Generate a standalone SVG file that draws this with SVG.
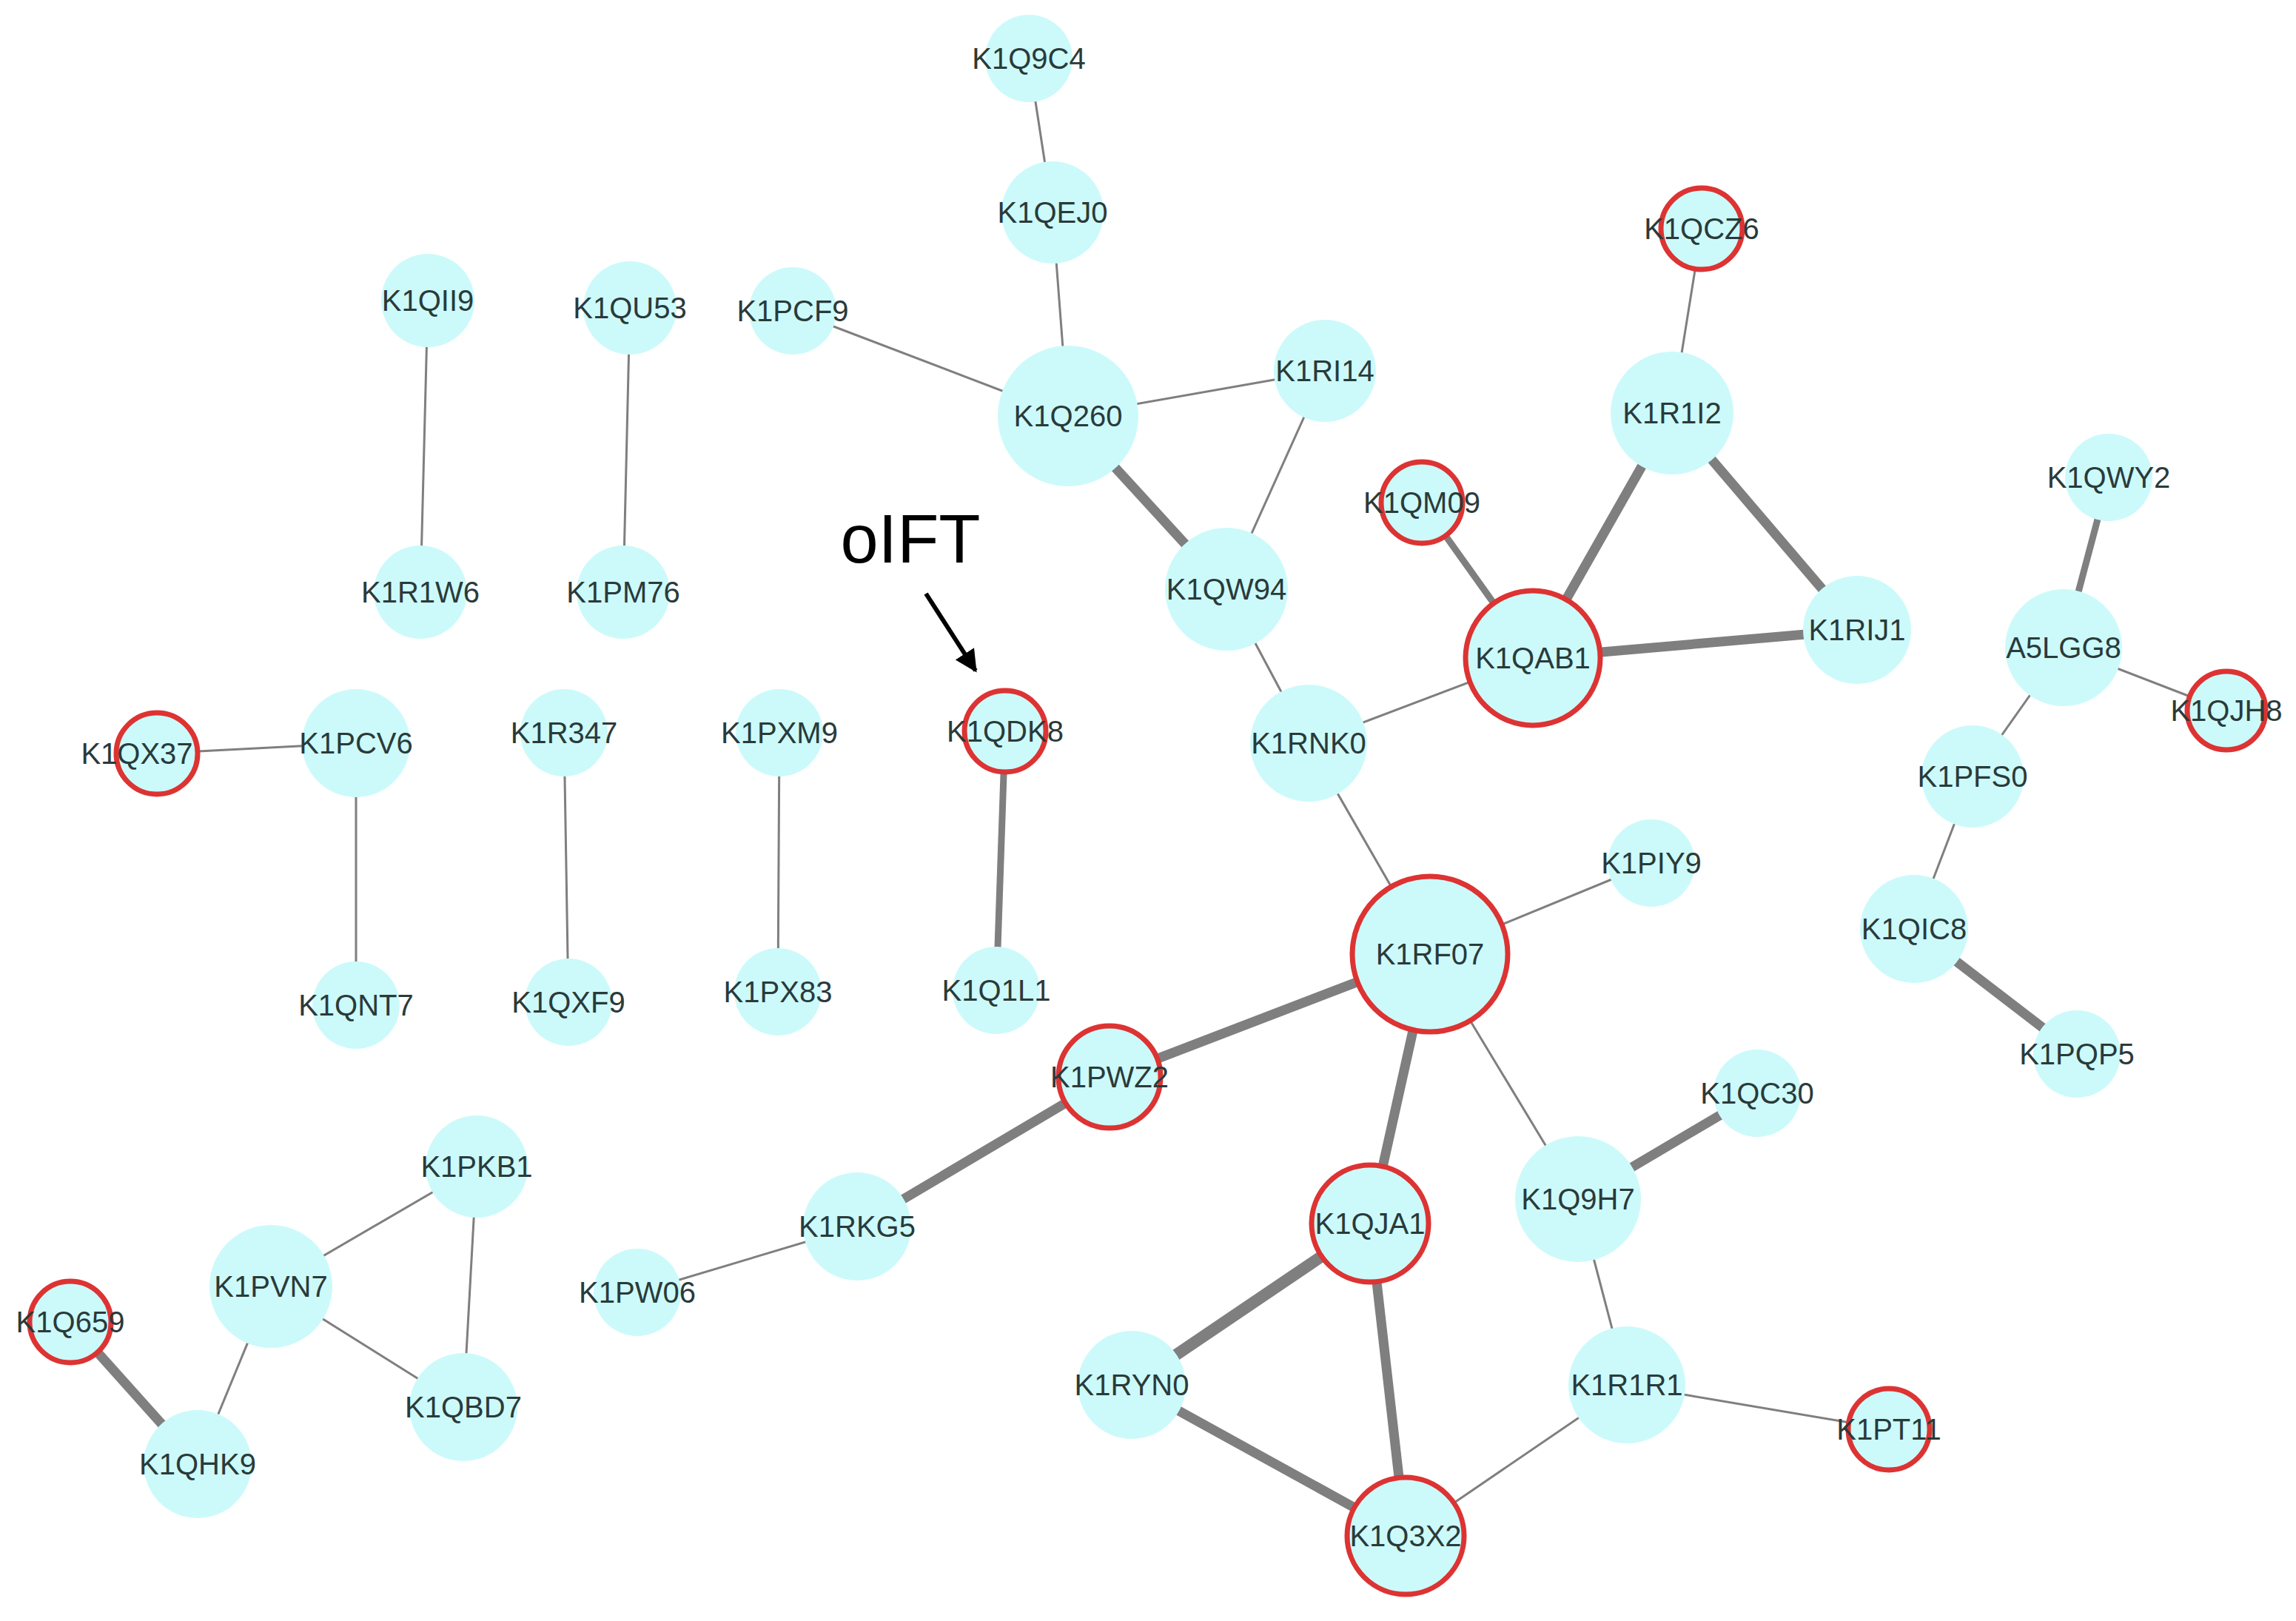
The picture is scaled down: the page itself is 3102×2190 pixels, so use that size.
<svg xmlns="http://www.w3.org/2000/svg" width="3102" height="2190" viewBox="0 0 3102 2190">
<style>
.n{fill:#ccfafa}
.r{fill:#ccfafa;stroke:#dd3333;stroke-width:7}
.t{font-family:"Liberation Sans",Arial,sans-serif;font-size:40px;fill:#2a3a3a;text-anchor:middle;dominant-baseline:central}
.e{stroke:#7f7f7f;stroke-width:3;fill:none}
.k{stroke:#7f7f7f;stroke-width:13;fill:none}
.m{stroke:#7f7f7f;stroke-width:9;fill:none}
</style>
<defs><marker id="ah" viewBox="0 0 10 10" refX="9" refY="5" markerWidth="5" markerHeight="5" orient="auto"><path d="M0,0L10,5L0,10z" fill="#000"/></marker></defs>
<rect width="3102" height="2190" fill="#fff"/>
<g id="connectors">
<line class="e" x1="1390" y1="79" x2="1422" y2="287"/>
<line class="e" x1="1422" y1="287" x2="1443" y2="562"/>
<line class="e" x1="1071" y1="420" x2="1443" y2="562"/>
<line class="e" x1="1443" y1="562" x2="1790" y2="501"/>
<line class="k" x1="1443" y1="562" x2="1657" y2="796"/>
<line class="e" x1="1790" y1="501" x2="1657" y2="796"/>
<line class="e" x1="1657" y1="796" x2="1768" y2="1004"/>
<line class="e" x1="1768" y1="1004" x2="2071" y2="889"/>
<line class="e" x1="1768" y1="1004" x2="1932" y2="1289"/>
<line class="e" x1="2299" y1="309" x2="2259" y2="558"/>
<line class="k" x1="2259" y1="558" x2="2071" y2="889"/>
<line class="k" x1="2259" y1="558" x2="2509" y2="851"/>
<line class="k" x1="2071" y1="889" x2="2509" y2="851"/>
<line class="m" x1="1921" y1="679" x2="2071" y2="889"/>
<line class="m" x1="2849" y1="645" x2="2788" y2="875"/>
<line class="e" x1="2788" y1="875" x2="3008" y2="960"/>
<line class="e" x1="2788" y1="875" x2="2665" y2="1049"/>
<line class="e" x1="2665" y1="1049" x2="2586" y2="1255"/>
<line class="k" x1="2586" y1="1255" x2="2806" y2="1424"/>
<line class="e" x1="578" y1="406" x2="568" y2="800"/>
<line class="e" x1="851" y1="416" x2="842" y2="800"/>
<line class="e" x1="212" y1="1018" x2="481" y2="1004"/>
<line class="e" x1="481" y1="1004" x2="481" y2="1358"/>
<line class="e" x1="762" y1="990" x2="768" y2="1354"/>
<line class="e" x1="1053" y1="990" x2="1051" y2="1340"/>
<line class="m" x1="1358" y1="988" x2="1346" y2="1338"/>
<line class="e" x1="1932" y1="1289" x2="2231" y2="1166"/>
<line class="k" x1="1932" y1="1289" x2="1499" y2="1455"/>
<line class="k" x1="1932" y1="1289" x2="1851" y2="1653"/>
<line class="e" x1="1932" y1="1289" x2="2132" y2="1620"/>
<line class="k" x1="1499" y1="1455" x2="1158" y2="1657"/>
<line class="e" x1="1158" y1="1657" x2="861" y2="1746"/>
<line class="k" x1="2132" y1="1620" x2="2374" y2="1477"/>
<line class="e" x1="2132" y1="1620" x2="2198" y2="1871"/>
<line class="e" x1="2198" y1="1871" x2="2552" y2="1931"/>
<line class="e" x1="2198" y1="1871" x2="1899" y2="2075"/>
<line class="k" x1="1851" y1="1653" x2="1529" y2="1871" style="stroke-width:16"/>
<line class="k" x1="1851" y1="1653" x2="1899" y2="2075"/>
<line class="k" x1="1529" y1="1871" x2="1899" y2="2075"/>
<line class="e" x1="644" y1="1576" x2="366" y2="1738"/>
<line class="e" x1="644" y1="1576" x2="626" y2="1901"/>
<line class="e" x1="366" y1="1738" x2="626" y2="1901"/>
<line class="e" x1="366" y1="1738" x2="267" y2="1978"/>
<line class="k" x1="95" y1="1786" x2="267" y2="1978"/>
<line stroke="#000" stroke-width="6" x1="1251" y1="802" x2="1318" y2="906" marker-end="url(#ah)"/>
</g>
<text x="1230" y="728" font-family="Liberation Sans,Arial,sans-serif" font-size="92" fill="#000" text-anchor="middle" dominant-baseline="central">oIFT</text>
<g id="K1Q9C4"><circle class="n" cx="1390" cy="79" r="59"/><text class="t" x="1390" y="79">K1Q9C4</text></g>
<g id="K1QEJ0"><circle class="n" cx="1422" cy="287" r="69"/><text class="t" x="1422" y="287">K1QEJ0</text></g>
<g id="K1QII9"><circle class="n" cx="578" cy="406" r="63"/><text class="t" x="578" y="406">K1QII9</text></g>
<g id="K1QU53"><circle class="n" cx="851" cy="416" r="63"/><text class="t" x="851" y="416">K1QU53</text></g>
<g id="K1PCF9"><circle class="n" cx="1071" cy="420" r="59"/><text class="t" x="1071" y="420">K1PCF9</text></g>
<g id="K1Q260"><circle class="n" cx="1443" cy="562" r="95"/><text class="t" x="1443" y="562">K1Q260</text></g>
<g id="K1RI14"><circle class="n" cx="1790" cy="501" r="69"/><text class="t" x="1790" y="501">K1RI14</text></g>
<g id="K1QCZ6"><circle class="r" cx="2299" cy="309" r="55"/><text class="t" x="2299" y="309">K1QCZ6</text></g>
<g id="K1R1I2"><circle class="n" cx="2259" cy="558" r="83"/><text class="t" x="2259" y="558">K1R1I2</text></g>
<g id="K1QM09"><circle class="r" cx="1921" cy="679" r="55"/><text class="t" x="1921" y="679">K1QM09</text></g>
<g id="K1QWY2"><circle class="n" cx="2849" cy="645" r="59"/><text class="t" x="2849" y="645">K1QWY2</text></g>
<g id="K1R1W6"><circle class="n" cx="568" cy="800" r="63"/><text class="t" x="568" y="800">K1R1W6</text></g>
<g id="K1PM76"><circle class="n" cx="842" cy="800" r="63"/><text class="t" x="842" y="800">K1PM76</text></g>
<g id="K1QW94"><circle class="n" cx="1657" cy="796" r="83"/><text class="t" x="1657" y="796">K1QW94</text></g>
<g id="K1QAB1"><circle class="r" cx="2071" cy="889" r="91"/><text class="t" x="2071" y="889">K1QAB1</text></g>
<g id="K1RIJ1"><circle class="n" cx="2509" cy="851" r="73"/><text class="t" x="2509" y="851">K1RIJ1</text></g>
<g id="A5LGG8"><circle class="n" cx="2788" cy="875" r="79"/><text class="t" x="2788" y="875">A5LGG8</text></g>
<g id="K1QJH8"><circle class="r" cx="3008" cy="960" r="53"/><text class="t" x="3008" y="960">K1QJH8</text></g>
<g id="K1QX37"><circle class="r" cx="212" cy="1018" r="55"/><text class="t" x="185" y="1018">K1QX37</text></g>
<g id="K1PCV6"><circle class="n" cx="481" cy="1004" r="73"/><text class="t" x="481" y="1004">K1PCV6</text></g>
<g id="K1R347"><circle class="n" cx="762" cy="990" r="59"/><text class="t" x="762" y="990">K1R347</text></g>
<g id="K1PXM9"><circle class="n" cx="1053" cy="990" r="59"/><text class="t" x="1053" y="990">K1PXM9</text></g>
<g id="K1QDK8"><circle class="r" cx="1358" cy="988" r="55"/><text class="t" x="1358" y="988">K1QDK8</text></g>
<g id="K1RNK0"><circle class="n" cx="1768" cy="1004" r="79"/><text class="t" x="1768" y="1004">K1RNK0</text></g>
<g id="K1PFS0"><circle class="n" cx="2665" cy="1049" r="69"/><text class="t" x="2665" y="1049">K1PFS0</text></g>
<g id="K1PIY9"><circle class="n" cx="2231" cy="1166" r="59"/><text class="t" x="2231" y="1166">K1PIY9</text></g>
<g id="K1QNT7"><circle class="n" cx="481" cy="1358" r="59"/><text class="t" x="481" y="1358">K1QNT7</text></g>
<g id="K1QXF9"><circle class="n" cx="768" cy="1354" r="59"/><text class="t" x="768" y="1354">K1QXF9</text></g>
<g id="K1PX83"><circle class="n" cx="1051" cy="1340" r="59"/><text class="t" x="1051" y="1340">K1PX83</text></g>
<g id="K1Q1L1"><circle class="n" cx="1346" cy="1338" r="59"/><text class="t" x="1346" y="1338">K1Q1L1</text></g>
<g id="K1RF07"><circle class="r" cx="1932" cy="1289" r="105"/><text class="t" x="1932" y="1289">K1RF07</text></g>
<g id="K1QIC8"><circle class="n" cx="2586" cy="1255" r="73"/><text class="t" x="2586" y="1255">K1QIC8</text></g>
<g id="K1PQP5"><circle class="n" cx="2806" cy="1424" r="59"/><text class="t" x="2806" y="1424">K1PQP5</text></g>
<g id="K1PWZ2"><circle class="r" cx="1499" cy="1455" r="69"/><text class="t" x="1499" y="1455">K1PWZ2</text></g>
<g id="K1QC30"><circle class="n" cx="2374" cy="1477" r="59"/><text class="t" x="2374" y="1477">K1QC30</text></g>
<g id="K1PKB1"><circle class="n" cx="644" cy="1576" r="69"/><text class="t" x="644" y="1576">K1PKB1</text></g>
<g id="K1RKG5"><circle class="n" cx="1158" cy="1657" r="73"/><text class="t" x="1158" y="1657">K1RKG5</text></g>
<g id="K1QJA1"><circle class="r" cx="1851" cy="1653" r="79"/><text class="t" x="1851" y="1653">K1QJA1</text></g>
<g id="K1Q9H7"><circle class="n" cx="2132" cy="1620" r="85"/><text class="t" x="2132" y="1620">K1Q9H7</text></g>
<g id="K1PVN7"><circle class="n" cx="366" cy="1738" r="83"/><text class="t" x="366" y="1738">K1PVN7</text></g>
<g id="K1PW06"><circle class="n" cx="861" cy="1746" r="59"/><text class="t" x="861" y="1746">K1PW06</text></g>
<g id="K1Q659"><circle class="r" cx="95" cy="1786" r="55"/><text class="t" x="95" y="1786">K1Q659</text></g>
<g id="K1QBD7"><circle class="n" cx="626" cy="1901" r="73"/><text class="t" x="626" y="1901">K1QBD7</text></g>
<g id="K1RYN0"><circle class="n" cx="1529" cy="1871" r="73"/><text class="t" x="1529" y="1871">K1RYN0</text></g>
<g id="K1R1R1"><circle class="n" cx="2198" cy="1871" r="79"/><text class="t" x="2198" y="1871">K1R1R1</text></g>
<g id="K1PT11"><circle class="r" cx="2552" cy="1931" r="55"/><text class="t" x="2552" y="1931">K1PT11</text></g>
<g id="K1QHK9"><circle class="n" cx="267" cy="1978" r="73"/><text class="t" x="267" y="1978">K1QHK9</text></g>
<g id="K1Q3X2"><circle class="r" cx="1899" cy="2075" r="79"/><text class="t" x="1899" y="2075">K1Q3X2</text></g>
</svg>
